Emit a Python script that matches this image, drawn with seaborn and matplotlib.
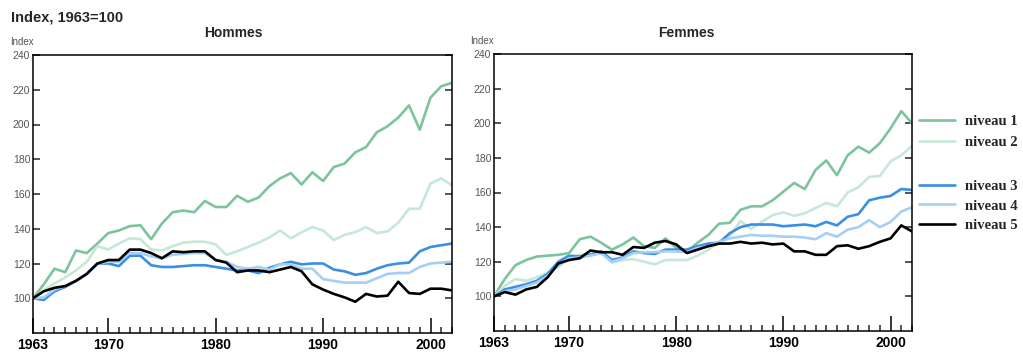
import numpy as np
import pandas as pd
import matplotlib
matplotlib.use("Agg")
import matplotlib.pyplot as plt
import seaborn as sns

years = list(range(1963, 2003))
levels = ["niveau 1", "niveau 2", "niveau 3", "niveau 4", "niveau 5"]

hommes_n1 = [100, 108, 117, 115, 127.5, 126, 131.5, 137.5, 139, 141.5, 142, 134, 143, 149.5, 150.5, 149.5, 156, 152.5, 152.5, 159,
             155.5, 158, 164.5, 169, 172, 165.5, 172.5, 167.5, 175.5, 177.5, 184, 187, 195.5, 199, 204, 211, 197, 215.5, 222, 224]
hommes_n2 = [100, 104.5, 108.5, 112, 116, 121, 130, 128, 131.5, 134.5, 134, 128, 127.5, 130, 132, 132.5, 132.5, 131, 125, 127,
             129.5, 132, 135, 139, 134.5, 138, 141, 139, 133.5, 136.5, 138, 141, 137.5, 138.5, 143.5, 151.5, 151.5, 166, 169, 165]
hommes_n3 = [100, 99, 104, 106.5, 110, 114, 120, 120, 118.5, 124.5, 124.5, 119, 118, 118, 118.5, 119, 119, 118, 117, 116,
             116, 114.5, 117.5, 119.5, 121, 119.5, 120, 120, 116.5, 115.5, 113.5, 114.5, 117, 119, 120, 120.5, 127, 129.5, 130.5, 131.5]
hommes_n4 = [100, 100.5, 105, 107, 110, 114, 120, 121, 121, 126, 126, 124, 123, 125, 125.5, 126, 126, 122, 121, 118,
             117, 118, 116.5, 119.5, 119.5, 117, 117, 111, 110, 109, 109, 109, 111.5, 114, 114.5, 114.5, 118, 120, 120.5, 121]
hommes_n5 = [100, 104, 106, 107, 110, 114, 120, 122, 122, 128, 128, 126, 123, 127, 126.5, 127, 127, 122, 120.5, 115,
             116, 116, 115, 116.5, 118, 115.5, 108, 105, 102.5, 100.5, 98, 102.5, 101, 101.5, 109.5, 103, 102.5, 105.5, 105.5, 104.5]

femmes_n1 = [100, 110, 118, 121, 123, 123.5, 124, 125, 133, 134.5, 131, 127, 130, 134, 129, 128, 133.5, 128, 126, 131,
             135.5, 142, 142.5, 150, 152, 152, 155.5, 160.5, 165.5, 162, 173, 178.5, 170, 181.5, 186.5, 183, 188.5, 197, 207, 200]
femmes_n2 = [100, 106, 110, 109, 111, 113.5, 117, 122, 124, 124.5, 125.5, 119.5, 121, 121.5, 120, 118.5, 121, 121, 121, 123.5,
             127, 131, 135, 143.5, 139, 143, 147, 148.5, 146.5, 148, 151, 154, 152, 160, 163, 169, 169.5, 178, 181.5, 187]
femmes_n3 = [100, 104, 105.5, 107, 109, 113, 120, 123.5, 123, 124, 126, 121, 122.5, 126, 125, 124.5, 127, 127, 127, 129,
             130.5, 131, 136.5, 140, 141.5, 141.5, 141.5, 140.5, 141, 141.5, 140.5, 143, 141, 146, 147.5, 155.5, 157, 158, 162, 161.5]
femmes_n4 = [100, 103, 104, 106, 108, 112, 118, 122, 122.5, 123.5, 125, 120, 122, 125, 125.5, 125.5, 126, 126, 125.5, 128,
             129, 131.5, 133.5, 134.5, 135.5, 135, 135, 134.5, 134.5, 134, 133, 136.5, 134.5, 138.5, 140, 144, 140, 143, 149, 151.5]
femmes_n5 = [100, 102.5, 101, 104, 105.5, 111, 119, 121, 122, 126.5, 125.5, 125.5, 124, 128.5, 128, 131, 132, 130, 125, 127,
             129, 130.5, 130.5, 131.5, 130.5, 131, 130, 130.5, 126, 126, 124, 124, 129, 129.5, 127.5, 129, 131.5, 133.5, 141, 137.5]

x_tick_years = [1963, 1970, 1980, 1990, 2000]
y_ticks = [100, 120, 140, 160, 180, 200, 220, 240]

colors = ["#7cc49b", "#c6e8d5", "#3a8ee4", "#a5cff5", "#000000"]


def long_frame(series):
    rows = []
    for lvl, vals in zip(levels, series):
        for yr, v in zip(years, vals):
            rows.append({"year": yr, "index": v, "niveau": lvl})
    return pd.DataFrame(rows)


df_h = long_frame([hommes_n1, hommes_n2, hommes_n3, hommes_n4, hommes_n5])
df_f = long_frame([femmes_n1, femmes_n2, femmes_n3, femmes_n4, femmes_n5])

sns.set_style("ticks")
plt.rcParams["font.family"] = ["Liberation Sans", "DejaVu Sans"]

W, H = 1023, 354
fig = plt.figure(figsize=(W / 100, H / 100), dpi=100)
fig.patch.set_facecolor("white")


def px_axes(x0, y0, x1, y1):
    return fig.add_axes([x0 / W, 1 - y1 / H, (x1 - x0) / W, (y1 - y0) / H])


ax1 = px_axes(33, 55, 452, 333)
ax2 = px_axes(494, 54, 912, 331)

for ax, df in ((ax1, df_h), (ax2, df_f)):
    sns.lineplot(data=df, x="year", y="index", hue="niveau", hue_order=levels,
                 palette=colors, linewidth=1.9, ax=ax, legend=True)
    ax.set_xlim(1963, 2002)
    ax.set_ylim(80, 240)
    ax.set_xlabel("")
    ax.set_ylabel("")
    ax.set_xticks(x_tick_years)
    ax.set_xticklabels([str(y) for y in x_tick_years], fontweight="bold", fontsize=10)
    ax.set_xticks([y for y in years if y not in x_tick_years], minor=True)
    ax.set_yticks(y_ticks)
    ax.set_yticklabels([str(v) for v in y_ticks], fontsize=7.5, color="#555555")
    ax.tick_params(axis="x", which="major", direction="in", length=11, width=1.1,
                   top=False, pad=3.5, colors="black")
    ax.tick_params(axis="x", which="minor", direction="in", length=4.5, width=1.1, top=False)
    ax.tick_params(axis="y", which="major", direction="in", length=5, width=1.1,
                   left=True, right=True, pad=2, labelcolor="#555555")
    for s in ax.spines.values():
        s.set_visible(True)
        s.set_linewidth(1.1)
        s.set_color("black")
    ax.grid(False)
    handles, labels = ax.get_legend_handles_labels()
    ax.get_legend().remove()

fig.text(11 / W, 1 - 17 / H, "Index, 1963=100", fontsize=10.5, fontweight="bold", va="center", ha="left")
fig.text(233 / W, 1 - 33 / H, "Hommes", fontsize=10, fontweight="bold", va="center", ha="center")
fig.text(686 / W, 1 - 33 / H, "Femmes", fontsize=10, fontweight="bold", va="center", ha="center")
fig.text(10 / W, 1 - 42 / H, "Index", fontsize=7, color="#555555", va="center", ha="left")
fig.text(470 / W, 1 - 41 / H, "Index", fontsize=7, color="#555555", va="center", ha="left")

leg_font = {"family": "Liberation Serif", "weight": "bold", "size": 10.5}
for hs, ls, top, sp in ((handles[:2], labels[:2], 115, 0.5), (handles[2:], labels[2:], 180, 0.42)):
    fig.legend(hs, ls, loc="upper left", bbox_to_anchor=(919 / W, 1 - top / H),
               frameon=False, prop=leg_font, handlelength=2.5, handletextpad=0.65,
               labelspacing=sp, borderaxespad=0, borderpad=0)

fig.savefig("out.png", dpi=100, facecolor="white")
